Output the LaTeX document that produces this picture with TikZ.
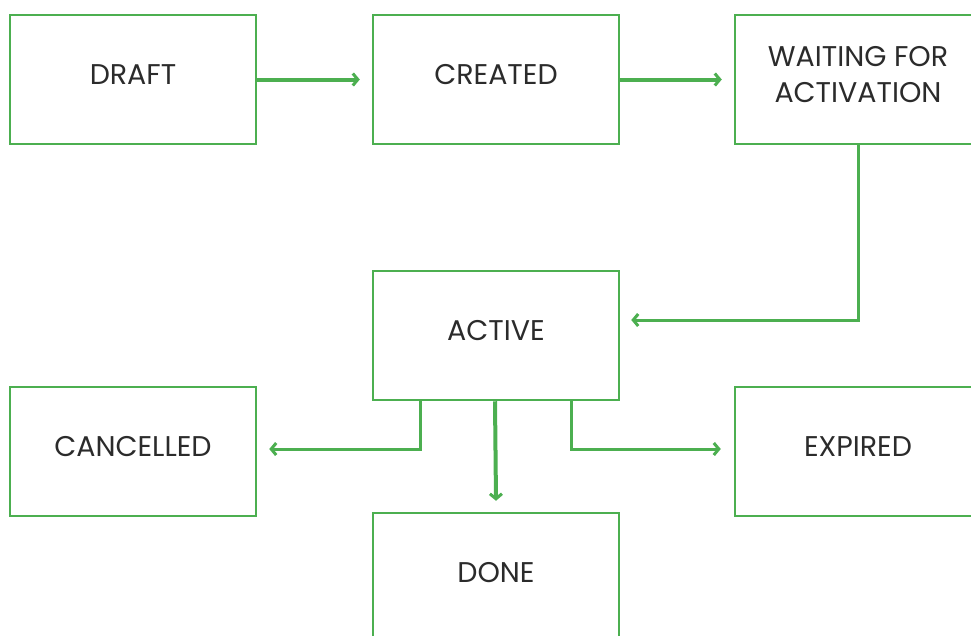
\documentclass[tikz,border=0pt]{standalone}
\usepackage{fontspec}
\setmainfont{Poppins}
\usetikzlibrary{positioning}
\usetikzlibrary{arrows.meta}
\usetikzlibrary{calc}
\definecolor{flowgreen}{HTML}{4CAF50}
\definecolor{statetext}{HTML}{2B2B2B}
\tikzstyle{statebox}=[rectangle,draw=flowgreen,line width=2.5pt,minimum width=246pt,minimum height=129pt,inner sep=0pt,align=center,text=statetext,text depth=10pt,font=\fontsize{28.5}{36}\selectfont]
\tikzstyle{flow} = [draw=flowgreen,line width=4pt,-{Straight Barb[length=5pt,width=12pt,line width=3pt]}]
\tikzstyle{elbow} = [draw=flowgreen,line width=3pt,-{Straight Barb[length=5pt,width=12pt,line width=3pt]}]

\begin{document}
\begin{tikzpicture}[x=1pt,y=-1pt]
  \useasboundingbox (0,0) rectangle (971,635);

   \foreach \pos/\name/\label in {{(133,79.5)/draft/DRAFT}, {(496,79.5)/created/CREATED}, {(858,79.5)/waiting/{WAITING FOR\\ACTIVATION}}, {(496,335.5)/active/ACTIVE}, {(133,451.5)/cancelled/CANCELLED}, {(858,451.5)/expired/EXPIRED}, {(496,577.5)/done/DONE}}
        \node[statebox] (\name) at \pos {\label};

    % straight connections
  \foreach \source/ \dest in {draft/created, created/waiting}
          \path[flow, shorten >=12pt] (\source) -- (\dest.west);
  \path[flow] ([xshift=-1pt]active.south) -- ([yshift=11pt]done.north);

    % bent connections
  \path[elbow] (waiting.south) |- ([xshift=11pt,yshift=15.5pt]active.east);
  \path[elbow] ([xshift=-76pt]active.south) |- ([xshift=12pt,yshift=2.5pt]cancelled.east);
  \path[elbow] ([xshift=75pt]active.south) |- ([xshift=-13pt,yshift=2.5pt]expired.west);

   	\end{tikzpicture}
\end{document}
